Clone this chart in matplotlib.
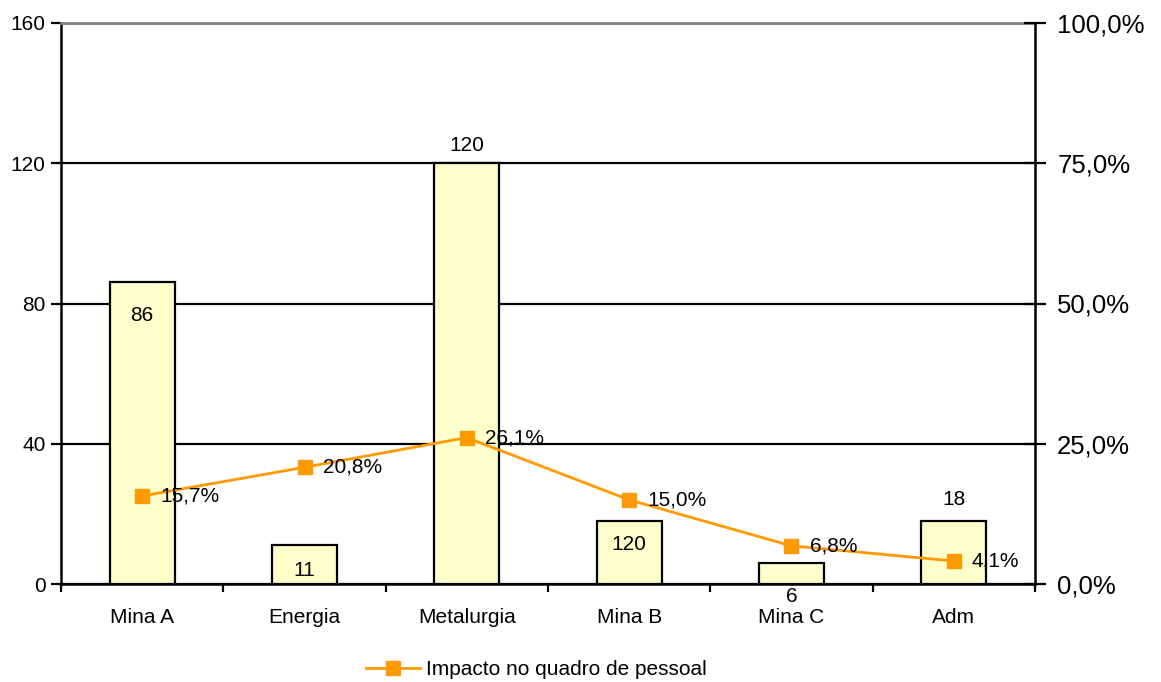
import matplotlib
matplotlib.use("Agg")
import matplotlib.pyplot as plt
from matplotlib.ticker import FuncFormatter, FixedLocator
import numpy as np

plt.rcParams['font.family'] = ['Liberation Sans', 'DejaVu Sans']

# Data
categories = ["Mina A", "Energia", "Metalurgia", "Mina B", "Mina C", "Adm"]
headcount = [86, 11, 120, 18, 6, 18]
bar_labels = ["86", "11", "120", "120", "6", "18"]
impact_pct = [15.7, 20.8, 26.1, 15.0, 6.8, 4.1]
series_name = "Impacto no quadro de pessoal"

# Label placement (vertical offsets in pixels from bar top; positive = up)
label_offsets = [-33, -25, 18, -24, -34, 21]

DPI = 100
FS = 15
fig = plt.figure(figsize=(11.61, 6.82), dpi=DPI)
ax = fig.add_axes([61 / 1161, 1 - 584 / 682, (1035 - 61) / 1161, (584 - 23) / 682])
ax2 = ax.twinx()

x = np.arange(len(categories))
ax.bar(x, headcount, width=0.4, color="#FFFFCC", edgecolor="black", linewidth=1.6, zorder=3)
ax.set_xlim(-0.5, len(categories) - 0.5)
ax.set_ylim(0, 160)
ax.set_yticks([0, 40, 80, 120, 160])
ax.yaxis.grid(True, color="black", linewidth=1.6, zorder=0)
ax.set_axisbelow(True)
ax.tick_params(axis="y", direction="out", length=7, width=1.6, labelsize=FS, pad=4)

# Category ticks at boundaries, labels at centres
ax.xaxis.set_major_locator(FixedLocator(np.arange(-0.5, len(categories), 1.0)))
ax.set_xticklabels([])
ax.set_xticks(x, minor=True)
ax.set_xticklabels(categories, minor=True)
ax.tick_params(axis="x", which="major", direction="out", length=6, width=1.6)
ax.tick_params(axis="x", which="minor", length=0, labelsize=FS, pad=17)

for spine in ["left", "bottom"]:
    ax.spines[spine].set_linewidth(1.8)
ax.spines["top"].set_color("#808080")
ax.spines["top"].set_linewidth(2)
ax.spines["right"].set_visible(False)

for xi, v, lab, off in zip(x, headcount, bar_labels, label_offsets):
    ax.annotate(lab, (xi, v), xytext=(0, off * 72 / DPI), textcoords="offset points",
                ha="center", va="center", fontsize=FS, zorder=5)

# Impact line on the secondary axis
ax2.plot(x, impact_pct, color="#FF9900", linewidth=2, marker="s", markersize=10,
         markerfacecolor="#FF9900", markeredgecolor="#FF9900", label=series_name, zorder=4)
ax2.set_ylim(0, 100)
ax2.set_yticks([0, 25, 50, 75, 100])
ax2.yaxis.set_major_formatter(FuncFormatter(lambda v, p: f"{v:.1f}%".replace(".", ",")))
ax2.tick_params(axis="y", direction="inout", length=16, width=1.6, labelsize=18.5, pad=8)
for s in ["left", "top", "bottom"]:
    ax2.spines[s].set_visible(False)
ax2.spines["right"].set_linewidth(1.8)

for xi, v in zip(x, impact_pct):
    ax2.annotate(f"{v:.1f}%".replace(".", ","), (xi, v), xytext=(13, 0),
                 textcoords="offset points", ha="left", va="center", fontsize=FS, zorder=6)

fig.legend(handles=ax2.get_lines(), loc="center", bbox_to_anchor=(0.462, 0.018),
           frameon=False, fontsize=FS, handlelength=2.6, handletextpad=0.25)

fig.savefig("out.png", dpi=DPI)
